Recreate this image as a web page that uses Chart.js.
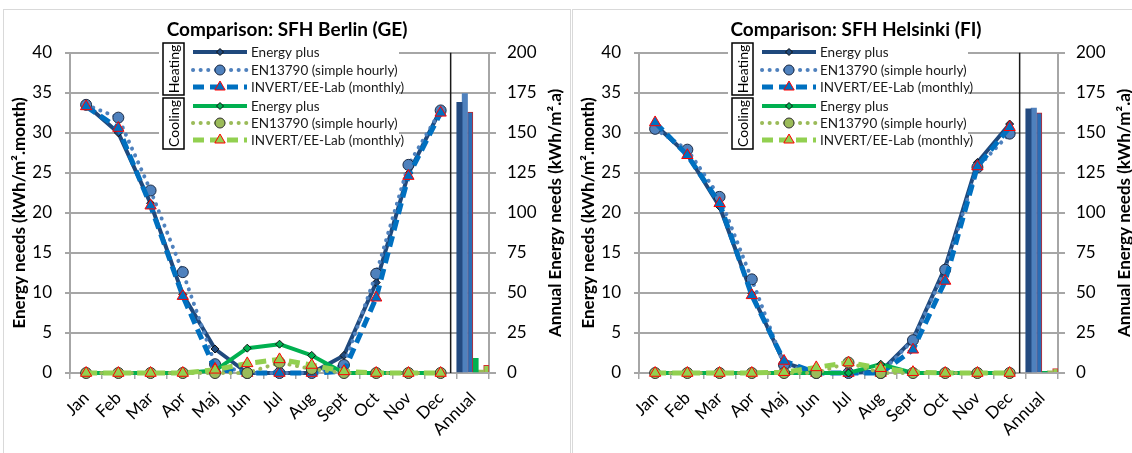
<!DOCTYPE html>
<html>
<head>
<meta charset="utf-8">
<script src="https://cdn.jsdelivr.net/npm/chart.js@4.4.1/dist/chart.umd.min.js"></script>
<style>
  html, body { margin: 0; padding: 0; overflow: hidden; background: #fff; width: 1132px; height: 453px; }
  .panel { position: absolute; top: 9px; width: 566px; height: 444px; border: 1px solid #d9d9d9; border-bottom: none; }
  #p1 { left: 3px; }
  #p2 { left: 572px; }
  canvas { display: block; }
</style>
</head>
<body>
<div class="panel" id="p1"><canvas id="berlin" width="566" height="443"></canvas></div>
<div class="panel" id="p2"><canvas id="helsinki" width="566" height="443"></canvas></div>
<script>
// categories
const months = ['Jan', 'Feb', 'Mar', 'Apr', 'Maj', 'Jun', 'Jul', 'Aug', 'Sept', 'Oct', 'Nov', 'Dec', 'Annual'];
const seriesNames = ['Energy plus', 'EN13790 (simple hourly)', 'INVERT/EE-Lab (monthly)'];
const leftTicks = [0, 5, 10, 15, 20, 25, 30, 35, 40];
const rightTicks = [0, 25, 50, 75, 100, 125, 150, 175, 200];

// Berlin, kWh/m2.month
const berlinHeatEP  = [33.5, 30.0, 21.2, 9.8, 3.0, 0, 0, 0, 2.2, 11.3, 24.9, 32.9];
const berlinHeatEN  = [33.5, 31.9, 22.8, 12.6, 1.1, 0, 0, 0, 1.0, 12.4, 26.0, 32.8];
const berlinHeatINV = [33.3, 30.6, 20.9, 9.6, 0.5, 0, 0, 0, 0.2, 9.4, 24.6, 32.5];
const berlinCoolEP  = [0, 0, 0, 0, 0.3, 3.1, 3.6, 2.2, 0, 0, 0, 0];
const berlinCoolEN  = [0, 0, 0, 0, 0, 0, 1.3, 0.5, 0, 0, 0, 0];
const berlinCoolINV = [0, 0, 0, 0, 0.4, 1.2, 1.7, 1.0, 0.2, 0, 0, 0];
// annual totals, kWh/m2.a : heat EP, EN, INV, cool EP, EN, INV
const berlinAnnual  = [169, 174.5, 163, 9.2, 1.8, 4.8];

// Helsinki
const helsinkiHeatEP  = [31.0, 27.3, 20.8, 9.9, 1.3, 0, 0, 0.2, 4.2, 13.2, 26.3, 31.1];
const helsinkiHeatEN  = [30.5, 27.9, 22.0, 11.7, 1.0, 0, 0, 0, 4.1, 12.9, 25.7, 29.9];
const helsinkiHeatINV = [31.3, 27.2, 21.2, 9.7, 1.5, 0, 0, 0, 2.9, 11.5, 25.8, 30.7];
const helsinkiCoolEP  = [0, 0, 0, 0, 0, 0, 0, 1.1, 0, 0, 0, 0];
const helsinkiCoolEN  = [0, 0, 0, 0, 0, 0, 1.3, 0, 0, 0, 0, 0];
const helsinkiCoolINV = [0, 0, 0, 0, 0.1, 0.7, 1.3, 0.6, 0.1, 0, 0, 0];
const helsinkiAnnual  = [165, 165.5, 162.5, 1.1, 1.3, 2.8];

const FONT = 'Lato';
const GRID = '#a6a6a6';

// line looks: heating EP, EN, INV, cooling EP, EN, INV
const looks = [
  { color: '#1f497d', width: 4,   dash: [],        cap: 'butt',  point: 'rectRot',  r: 4,   fill: '#1f497d', edge: '#111' },
  { color: '#4f81bd', width: 4,   dash: [0.1, 7.5], cap: 'round', point: 'circle',   r: 5.5, fill: '#4f81bd', edge: '#1c2b45' },
  { color: '#0070c0', width: 5,   dash: [11, 6],   cap: 'butt',  point: 'triangle', r: 6.5, fill: '#0070c0', edge: '#ff0000' },
  { color: '#00b050', width: 4,   dash: [],        cap: 'butt',  point: 'rectRot',  r: 4,   fill: '#00b050', edge: '#111' },
  { color: '#9bbb59', width: 4,   dash: [0.1, 7.5], cap: 'round', point: 'circle',   r: 5.5, fill: '#9bbb59', edge: '#333' },
  { color: '#92d050', width: 5,   dash: [11, 6],   cap: 'butt',  point: 'triangle', r: 6.5, fill: '#92d050', edge: '#ff0000' }
];
const barFill = ['#234a80', '#4f81bd', '#2a6db5', '#00b050', '#9bbb59', '#92d050'];
const barEdge = ['#234a80', '#4f81bd', '#c0282d', '#00b050', '#9bbb59', '#d03030'];

// separator line, axis titles and the grouped legend
const decor = {
  id: 'decor',
  beforeDatasetsDraw(chart) {
    const ctx = chart.ctx, a = chart.chartArea, x = chart.scales.x;
    const p11 = x.getPixelForValue(11), p12 = x.getPixelForValue(12);
    const px = p11 + 0.31 * (p12 - p11);
    ctx.save();
    ctx.strokeStyle = '#1a1a1a';
    ctx.lineWidth = 1.5;
    ctx.beginPath();
    ctx.moveTo(px, a.top);
    ctx.lineTo(px, a.bottom);
    ctx.stroke();
    ctx.restore();
  },
  afterDraw(chart) {
    const ctx = chart.ctx, a = chart.chartArea;
    const midY = (a.top + a.bottom) / 2;
    ctx.save();
    ctx.fillStyle = '#000';
    ctx.font = 'bold 17px ' + FONT;
    ctx.textAlign = 'center';
    ctx.textBaseline = 'middle';
    ctx.translate(16, midY);
    ctx.rotate(-Math.PI / 2);
    ctx.fillText('Energy needs (kWh/m\u00b2.month)', 0, 0);
    ctx.restore();

    ctx.save();
    ctx.fillStyle = '#000';
    ctx.font = 'bold 17px ' + FONT;
    ctx.textAlign = 'center';
    ctx.textBaseline = 'middle';
    ctx.translate(chart.width - 14, midY);
    ctx.rotate(-Math.PI / 2);
    ctx.fillText('Annual Energy needs (kWh/m\u00b2.a)', 0, 0);
    ctx.restore();

    // legend
    ctx.save();
    ctx.fillStyle = '#fff';
    ctx.fillRect(155, 33, 240, 108);
    const groupBox = (label, x, y, w, h) => {
      ctx.strokeStyle = '#000';
      ctx.lineWidth = 1.5;
      ctx.strokeRect(x, y, w, h);
      ctx.save();
      ctx.fillStyle = '#000';
      ctx.font = '14px ' + FONT;
      ctx.textAlign = 'center';
      ctx.textBaseline = 'middle';
      ctx.translate(x + w / 2 + 1, y + h / 2);
      ctx.rotate(-Math.PI / 2);
      ctx.fillText(label, 0, 0);
      ctx.restore();
    };
    groupBox('Heating', 159, 33, 21, 52);
    groupBox('Cooling', 159, 88, 21, 51);

    const rows = [42, 60, 77, 96, 113, 130];
    rows.forEach((ry, i) => {
      const lk = looks[i];
      ctx.save();
      ctx.strokeStyle = lk.color;
      ctx.lineWidth = lk.width;
      ctx.lineCap = lk.cap;
      ctx.setLineDash(lk.dash);
      ctx.beginPath();
      ctx.moveTo(189, ry);
      ctx.lineTo(243, ry);
      ctx.stroke();
      ctx.restore();
      ctx.save();
      ctx.fillStyle = lk.fill;
      ctx.strokeStyle = lk.edge;
      ctx.lineWidth = 1;
      Chart.helpers.drawPoint(ctx, { pointStyle: lk.point, radius: lk.r - 0.5, rotation: 0, borderWidth: 1 }, 216, ry);
      ctx.restore();
      ctx.fillStyle = '#1a1a1a';
      ctx.font = '13.5px ' + FONT;
      ctx.textAlign = 'left';
      ctx.textBaseline = 'middle';
      ctx.fillText(seriesNames[i % 3], 247, ry + 1);
    });
    ctx.restore();
  }
};

function buildChart(id, title, lines, annual) {
  const datasets = lines.map((vals, i) => {
    const lk = looks[i];
    return {
      type: 'line',
      label: seriesNames[i % 3],
      data: vals.concat([null]),
      yAxisID: 'y',
      borderColor: lk.color,
      borderWidth: lk.width,
      borderDash: lk.dash,
      borderCapStyle: lk.cap,
      borderJoinStyle: 'round',
      pointStyle: lk.point,
      pointRadius: lk.r,
      pointBackgroundColor: lk.fill,
      pointBorderColor: lk.edge,
      pointBorderWidth: 1,
      tension: 0,
      fill: false,
      clip: false,
      order: 10 - i
    };
  });
  annual.forEach((v, i) => {
    datasets.push({
      type: 'bar',
      label: seriesNames[i % 3],
      data: months.map((m, k) => (k === 12 ? v : null)),
      yAxisID: 'y2',
      backgroundColor: barFill[i],
      borderColor: barEdge[i],
      borderWidth: (i === 2 || i === 5) ? 1 : 0,
      categoryPercentage: 1,
      barPercentage: 1,
      order: 50
    });
  });

  const tickFont = { family: FONT, size: 17 };
  new Chart(document.getElementById(id), {
    data: { labels: months, datasets: datasets },
    options: {
      responsive: false,
      animation: false,
      events: [],
      layout: { padding: 0 },
      plugins: {
        legend: { display: false },
        tooltip: { enabled: false },
        title: {
          display: true,
          text: title,
          color: '#000',
          font: { family: FONT, size: 19, weight: 'bold' },
          padding: { top: 8, bottom: 12 }
        }
      },
      scales: {
        x: {
          type: 'category',
          offset: true,
          grid: { display: true, drawOnChartArea: false, drawTicks: true, tickLength: 6, color: GRID, lineWidth: 1.5, offset: true },
          border: { display: false },
          ticks: { autoSkip: false, minRotation: 45, maxRotation: 45, color: '#000', font: tickFont, padding: 9 },
          afterFit: s => { s.height = 80; }
        },
        y: {
          position: 'left',
          min: 0,
          max: 40,
          afterBuildTicks: s => { s.ticks = leftTicks.map(v => ({ value: v })); },
          ticks: { color: '#000', font: tickFont, padding: 13 },
          grid: { color: GRID, lineWidth: 2, tickLength: 5 },
          border: { display: true, color: GRID, width: 2 },
          afterFit: s => { s.width = 66; }
        },
        y2: {
          position: 'right',
          min: 0,
          max: 200,
          afterBuildTicks: s => { s.ticks = rightTicks.map(v => ({ value: v })); },
          ticks: { color: '#000', font: tickFont, padding: 11 },
          grid: { drawOnChartArea: false, color: GRID, lineWidth: 2, tickLength: 7 },
          border: { display: true, color: GRID, width: 2 },
          afterFit: s => { s.width = 81; }
        }
      }
    },
    plugins: [decor]
  });
}

buildChart('berlin', 'Comparison: SFH Berlin (GE)',
  [berlinHeatEP, berlinHeatEN, berlinHeatINV, berlinCoolEP, berlinCoolEN, berlinCoolINV], berlinAnnual);
buildChart('helsinki', 'Comparison: SFH Helsinki (FI)',
  [helsinkiHeatEP, helsinkiHeatEN, helsinkiHeatINV, helsinkiCoolEP, helsinkiCoolEN, helsinkiCoolINV], helsinkiAnnual);
</script>
</body>
</html>
